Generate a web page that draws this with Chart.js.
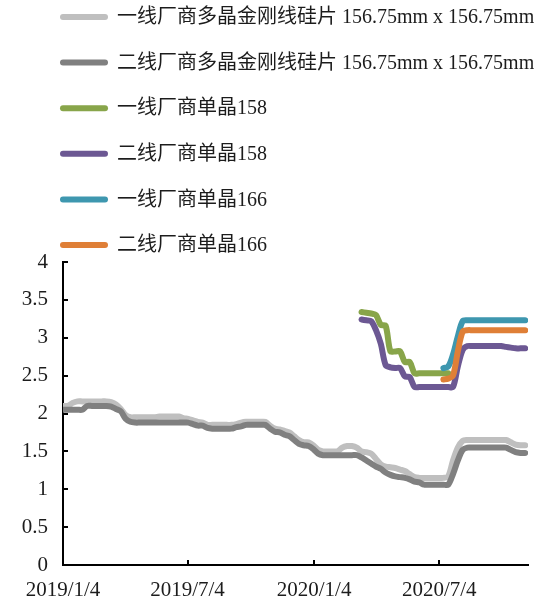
<!DOCTYPE html>
<html>
<head>
<meta charset="utf-8">
<script src="https://cdn.jsdelivr.net/npm/chart.js@4/dist/chart.umd.min.js"></script>
<style>
  html, body { margin: 0; padding: 0; background: #fff; }
  #wrap { width: 544px; height: 602px; position: relative; }
</style>
</head>
<body>
<div id="wrap"><canvas id="chart"></canvas></div>
<script>
// Weekly wafer price series (元/片), first week 2019/1/4
const firstDate = '2019/1/4';
const weekCount = 97;
const axisEndDate = '2020/11/10';
const xTickLabels = ['2019/1/4', '2019/7/4', '2020/1/4', '2020/7/4'];
const yTickStep = 0.5;

const seriesNames = [
  '一线厂商多晶金刚线硅片 156.75mm x 156.75mm',
  '二线厂商多晶金刚线硅片 156.75mm x 156.75mm',
  '一线厂商单晶158',
  '二线厂商单晶158',
  '一线厂商单晶166',
  '二线厂商单晶166'
];

// Multicrystalline wafers, one value per week from 2019/1/4
const tier1Poly = [
  2.10, 2.10, 2.14, 2.16, 2.16, 2.16, 2.16, 2.16, 2.16, 2.16,
  2.15, 2.12, 2.06, 1.98, 1.95, 1.95, 1.95, 1.95, 1.95, 1.95,
  1.96, 1.96, 1.96, 1.96, 1.96, 1.94, 1.93, 1.91, 1.89, 1.88,
  1.85, 1.85, 1.85, 1.85, 1.85, 1.85, 1.86, 1.88, 1.89, 1.89,
  1.89, 1.89, 1.89, 1.84, 1.80, 1.79, 1.77, 1.75, 1.70, 1.65,
  1.62, 1.62, 1.58, 1.52, 1.50, 1.50, 1.50, 1.50, 1.55, 1.57,
  1.57, 1.55, 1.50, 1.49, 1.47, 1.40, 1.33, 1.30, 1.29, 1.28,
  1.26, 1.24, 1.20, 1.16, 1.15, 1.15, 1.15, 1.15, 1.15, 1.15,
  1.17, 1.38, 1.55, 1.64, 1.65, 1.65, 1.65, 1.65, 1.65, 1.65,
  1.65, 1.65, 1.65, 1.62, 1.59, 1.58, 1.58
];
const tier2Poly = [
  2.05, 2.05, 2.05, 2.05, 2.05, 2.10, 2.10, 2.10, 2.10, 2.10,
  2.09, 2.06, 2.03, 1.93, 1.89, 1.88, 1.88, 1.88, 1.88, 1.88,
  1.88, 1.88, 1.88, 1.88, 1.88, 1.88, 1.88, 1.86, 1.84, 1.84,
  1.81, 1.80, 1.80, 1.80, 1.80, 1.80, 1.82, 1.83, 1.85, 1.85,
  1.85, 1.85, 1.85, 1.80, 1.76, 1.75, 1.72, 1.70, 1.65, 1.60,
  1.58, 1.57, 1.53, 1.47, 1.45, 1.45, 1.45, 1.45, 1.45, 1.45,
  1.45, 1.45, 1.42, 1.38, 1.34, 1.30, 1.27, 1.22, 1.19, 1.17,
  1.16, 1.15, 1.13, 1.10, 1.09, 1.06, 1.06, 1.06, 1.06, 1.06,
  1.06, 1.20, 1.38, 1.52, 1.55, 1.55, 1.55, 1.55, 1.55, 1.55,
  1.55, 1.55, 1.55, 1.52, 1.49, 1.48, 1.48
];

// Monocrystalline 158 wafers, weekly from 2020/3/13
const mono158Start = '2020/3/13';
const tier1Mono158 = [
  3.34, 3.33, 3.32, 3.30, 3.17, 3.16, 2.82, 2.82, 2.82, 2.68,
  2.68, 2.53, 2.53, 2.53, 2.53, 2.53, 2.53, 2.53, 2.53
];
const tier2Mono158 = [
  3.24, 3.23, 3.22, 3.10, 2.92, 2.64, 2.61, 2.60, 2.60, 2.49,
  2.48, 2.35, 2.35, 2.35, 2.35, 2.35, 2.35, 2.35, 2.35, 2.35,
  2.62, 2.84, 2.89, 2.89, 2.89, 2.89, 2.89, 2.89, 2.89, 2.89,
  2.88, 2.87, 2.86, 2.86, 2.86
];

// Monocrystalline 166 wafers, weekly from 2020/7/10
const mono166Start = '2020/7/10';
const tier1Mono166 = [
  2.60, 2.62, 2.78, 3.02, 3.22, 3.23, 3.23, 3.23, 3.23, 3.23,
  3.23, 3.23, 3.23, 3.23, 3.23, 3.23, 3.23, 3.23
];
const tier2Mono166 = [
  2.45, 2.46, 2.50, 2.82, 3.08, 3.10, 3.10, 3.10, 3.10, 3.10,
  3.10, 3.10, 3.10, 3.10, 3.10, 3.10, 3.10, 3.10
];

const seriesColors = ['#BFBFBF', '#808080', '#88A54A', '#6C5893', '#3E97AF', '#DF7F37'];

// ---- helpers ----
function parseDate(s) {
  const [y, m, d] = s.split('/').map(Number);
  return Date.UTC(y, m - 1, d);
}
const origin = parseDate(firstDate);
function dayOffset(s) { return Math.round((parseDate(s) - origin) / 86400000); }

const weekDates = [];
for (let k = 0; k < weekCount; k++) {
  const dt = new Date(origin + k * 7 * 86400000);
  weekDates.push(dt.getUTCFullYear() + '/' + (dt.getUTCMonth() + 1) + '/' + dt.getUTCDate());
}
function toPoints(values, startDate) {
  const s = weekDates.indexOf(startDate);
  return values.map((v, k) => ({ x: dayOffset(weekDates[s + k]), y: v }));
}

const seriesValues = [
  toPoints(tier1Poly, firstDate),
  toPoints(tier2Poly, firstDate),
  toPoints(tier1Mono158, mono158Start),
  toPoints(tier2Mono158, mono158Start),
  toPoints(tier1Mono166, mono166Start),
  toPoints(tier2Mono166, mono166Start)
];

const textColor = '#1c1c1c';
const fontFamily = "'Liberation Serif', 'Noto Sans CJK SC', serif";

// Legend stacked one entry per row above the plot
const stackedLegend = {
  id: 'stackedLegend',
  afterDraw(chart) {
    const ctx = chart.ctx;
    ctx.save();
    chart.data.datasets.forEach((ds, i) => {
      const y = 17 + 45.6 * i;
      ctx.strokeStyle = ds.borderColor;
      ctx.lineWidth = 6;
      ctx.lineCap = 'round';
      ctx.beginPath();
      ctx.moveTo(63, y);
      ctx.lineTo(105, y);
      ctx.stroke();
      ctx.fillStyle = textColor;
      ctx.font = '20px ' + fontFamily;
      ctx.textAlign = 'left';
      ctx.textBaseline = 'middle';
      ctx.fillText(ds.label, 117, y + 1);
    });
    ctx.restore();
  }
};

const datasets = seriesNames.map((name, i) => ({
  label: name,
  data: seriesValues[i],
  borderColor: seriesColors[i],
  backgroundColor: seriesColors[i],
  order: seriesNames.length - i
}));

const axisFont = { family: fontFamily, size: 21 };

new Chart(document.getElementById('chart'), {
  type: 'line',
  data: { datasets },
  plugins: [stackedLegend],
  options: {
    responsive: true,
    maintainAspectRatio: false,
    animation: false,
    layout: { padding: { top: 262, right: 16, left: 0, bottom: 0 } },
    plugins: { legend: { display: false }, tooltip: { enabled: false } },
    elements: {
      point: { radius: 0 },
      line: { borderWidth: 6, tension: 0.3, borderCapStyle: 'round', borderJoinStyle: 'round', fill: false }
    },
    scales: {
      x: {
        type: 'linear',
        min: 0,
        max: dayOffset(axisEndDate),
        afterFit: (s) => { s.height = 37; },
        afterBuildTicks: (s) => { s.ticks = xTickLabels.map(d => ({ value: dayOffset(d) })); },
        ticks: {
          autoSkip: false, maxRotation: 0, minRotation: 0, padding: 18,
          color: textColor, font: axisFont,
          callback: (v, i) => xTickLabels[i]
        },
        grid: { drawOnChartArea: false, drawTicks: true, tickLength: -5, color: '#000', lineWidth: 2 },
        border: { color: '#000', width: 2 }
      },
      y: {
        min: 0,
        max: 4,
        afterFit: (s) => { s.width = 63; },
        ticks: {
          stepSize: yTickStep, padding: 20,
          color: textColor, font: axisFont,
          callback: (v) => String(v)
        },
        grid: { drawOnChartArea: false, drawTicks: true, tickLength: -5, color: '#000', lineWidth: 2 },
        border: { color: '#000', width: 2 }
      }
    }
  }
});
</script>
</body>
</html>
